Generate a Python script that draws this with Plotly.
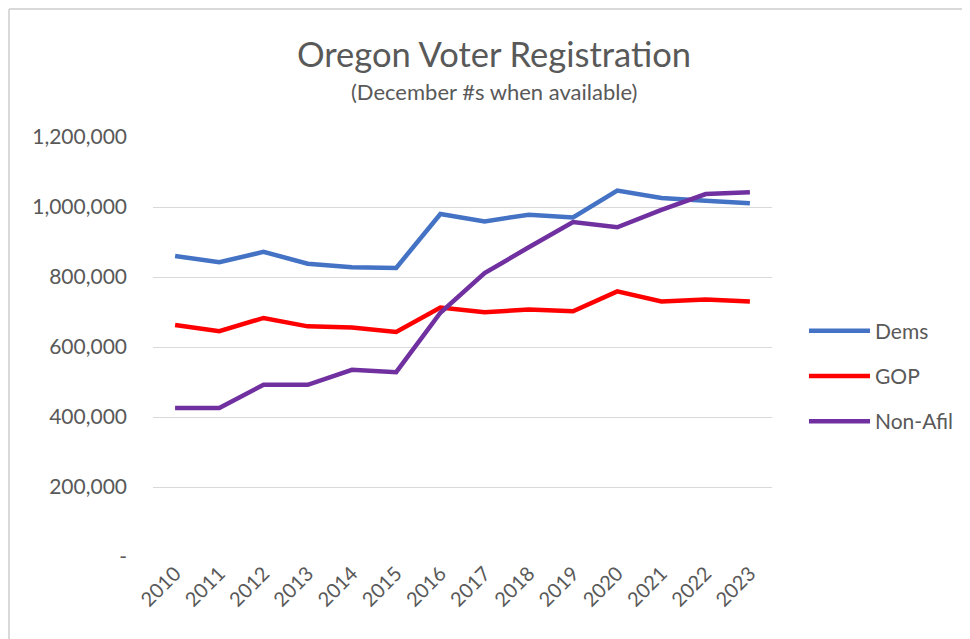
import plotly.graph_objects as go

years = [str(y) for y in range(2010, 2024)]
dems = [860000, 842000, 872000, 838000, 828000, 826000, 980000, 959000, 978000, 970000, 1047000, 1026000, 1018000, 1011000]
gop = [663000, 645000, 683000, 659000, 656000, 643000, 713000, 699000, 707000, 702000, 759000, 730000, 736000, 730000]
nonafil = [426000, 426000, 492000, 492000, 535000, 528000, 698000, 811000, 885000, 957000, 942000, 992000, 1037000, 1042000]

y_tickvals = [0, 200000, 400000, 600000, 800000, 1000000, 1200000]
y_ticktext = ["-", "200,000", "400,000", "600,000", "800,000", "1,000,000", "1,200,000"]

title_text = "Oregon Voter Registration"
subtitle_text = "(December #s when available)"

series = [("Dems", dems, "#4472C4"), ("GOP", gop, "#FF0000"), ("Non-Afil", nonafil, "#7030A0")]

FONT = "Lato"
GREY = "#595959"

fig = go.Figure()
for name, vals, color in series:
    fig.add_trace(go.Scatter(x=years, y=vals, name=name, mode="lines",
                             line=dict(color=color, width=4.5),
                             legendgroup=name))

fig.update_layout(
    width=970, height=639,
    margin=dict(l=145, r=206, t=129, b=90),
    paper_bgcolor="white", plot_bgcolor="white",
    font=dict(family=FONT, color=GREY, size=21),
    showlegend=True,
    legend=dict(x=1.0517, xanchor="left", y=0.431, yanchor="middle",
                font=dict(size=21, color=GREY), tracegroupgap=15,
                traceorder="grouped", itemwidth=61),
    xaxis=dict(type="category", showgrid=False, showline=False, ticks="",
               tickangle=-45, tickfont=dict(size=20, color=GREY),
               range=[-0.5, len(years) - 0.5]),
    yaxis=dict(range=[0, 1200000], tickvals=y_tickvals, ticktext=y_ticktext,
               showgrid=True, gridcolor="#D9D9D9", gridwidth=1.3,
               zeroline=False, showline=False, ticks="",
               tickfont=dict(size=21, color=GREY), ticklabelstandoff=25),
    annotations=[
        dict(text=title_text, xref="paper", yref="paper", x=0.551, y=1.2,
             xanchor="center", yanchor="middle", showarrow=False,
             font=dict(size=34.5, color=GREY, family=FONT)),
        dict(text=subtitle_text, xref="paper", yref="paper", x=0.551, y=1.1095,
             xanchor="center", yanchor="middle", showarrow=False,
             font=dict(size=22, color=GREY, family=FONT)),
    ],
    shapes=[
        dict(type="line", xref="paper", yref="paper",
             x0=-0.2326, x1=1.4, y0=1.3048, y1=1.3048,
             line=dict(color="#D9D9D9", width=2), layer="below"),
        dict(type="line", xref="paper", yref="paper",
             x0=-0.2326, x1=-0.2326, y0=-0.3, y1=1.3048,
             line=dict(color="#D9D9D9", width=2), layer="below"),
    ],
)

fig.write_html("out.html")
